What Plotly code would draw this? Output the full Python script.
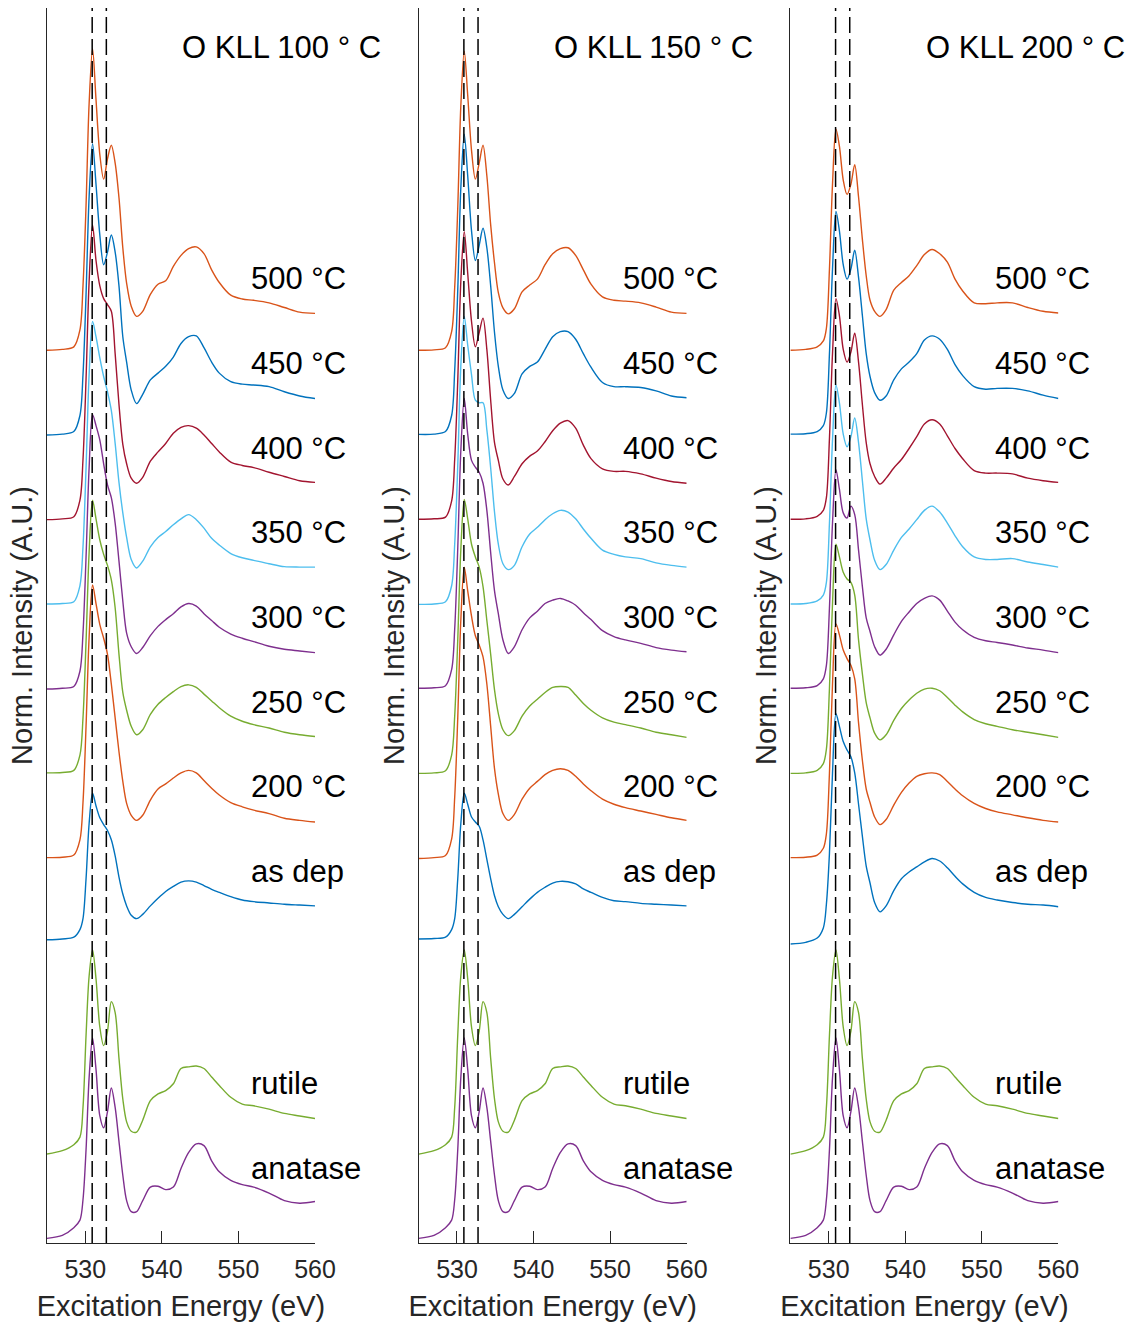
import plotly.graph_objects as go

# Common excitation-energy grid (eV) for all O K-edge spectra
ENERGY = [525, 527, 528.5, 529.3, 529.7, 530.1, 530.5, 530.95, 531.4, 531.9,
          532.4, 532.9, 533.4, 533.9, 534.4, 534.9, 535.4, 536.0, 536.7, 537.5,
          538.5, 539.5, 540.5, 541.5, 542.5, 543.5, 544.5, 545.5, 546.5, 547.5,
          549.0, 550.5, 552.0, 554.0, 556.0, 558.0, 560.0]

# Reference spectra (shared by all three panels)
ANATASE = [0.055, 0.09, 0.18, 0.27, 0.51, 1.1, 1.95, 2.42, 2.05, 1.5,
           1.36, 1.55, 1.83, 1.6, 1.2, 0.8, 0.5, 0.37, 0.37, 0.5,
           0.66, 0.67, 0.63, 0.66, 0.88, 1.07, 1.17, 1.15, 0.97, 0.84,
           0.74, 0.69, 0.66, 0.59, 0.5, 0.47, 0.49]
RUTILE = [0.05, 0.09, 0.16, 0.25, 0.6, 1.45, 2.15, 2.46, 2.12, 1.55,
          1.33, 1.5, 1.85, 1.72, 1.18, 0.7, 0.43, 0.32, 0.31, 0.45,
          0.68, 0.76, 0.8, 0.88, 1.06, 1.08, 1.09, 1.06, 0.96, 0.86,
          0.72, 0.64, 0.62, 0.58, 0.53, 0.5, 0.47]

# O KLL 100 °C series
P100_ASDEP = [0.08, 0.09, 0.11, 0.2, 0.33, 0.8, 1.45, 1.81, 1.66, 1.52,
              1.44, 1.37, 1.26, 1.07, 0.82, 0.62, 0.48, 0.37, 0.33, 0.38,
              0.48, 0.57, 0.65, 0.71, 0.76, 0.775, 0.76, 0.72, 0.675, 0.64,
              0.59, 0.55, 0.53, 0.515, 0.5, 0.49, 0.48]
P100_200 = [0.05, 0.055, 0.08, 0.26, 0.7, 1.6, 2.65, 3.27, 3.05, 2.8,
            2.64, 2.45, 2.1, 1.7, 1.3, 0.95, 0.69, 0.55, 0.49, 0.55,
            0.73, 0.86, 0.92, 0.99, 1.05, 1.08, 1.05, 0.96, 0.87, 0.79,
            0.7, 0.65, 0.61, 0.57, 0.515, 0.49, 0.47]
P100_250 = [0.05, 0.055, 0.08, 0.26, 0.7, 1.6, 2.65, 3.27, 3.05, 2.8,
            2.63, 2.5, 2.33, 2.0, 1.45, 1.0, 0.79, 0.6, 0.5, 0.56,
            0.74, 0.86, 0.94, 1.01, 1.07, 1.09, 1.06, 0.98, 0.9, 0.82,
            0.72, 0.66, 0.62, 0.58, 0.53, 0.5, 0.48]
P100_300 = [0.04, 0.05, 0.07, 0.25, 0.7, 1.6, 2.65, 3.28, 3.15, 2.98,
            2.7, 2.45, 2.3, 2.0, 1.55, 1.08, 0.7, 0.54, 0.46, 0.53,
            0.67, 0.78, 0.86, 0.93, 1.01, 1.05, 1.02, 0.93, 0.85, 0.77,
            0.69, 0.64, 0.6, 0.545, 0.51, 0.49, 0.47]
P100_350 = [0.044, 0.05, 0.07, 0.26, 0.72, 1.65, 2.75, 3.38, 3.2, 2.95,
            2.73, 2.55, 2.33, 1.94, 1.48, 1.12, 0.83, 0.57, 0.47, 0.55,
            0.72, 0.83, 0.9, 0.98, 1.05, 1.1, 1.04, 0.94, 0.82, 0.74,
            0.64, 0.59, 0.56, 0.52, 0.485, 0.48, 0.48]
P100_400 = [0.04, 0.05, 0.075, 0.27, 0.75, 1.7, 2.85, 3.52, 3.1, 2.8,
            2.65, 2.58, 2.5, 2.0, 1.4, 0.93, 0.7, 0.53, 0.47, 0.54,
            0.73, 0.84, 0.94, 1.06, 1.13, 1.15, 1.12, 1.04, 0.94, 0.84,
            0.72, 0.68, 0.655, 0.6, 0.55, 0.5, 0.48]
P100_450 = [0.04, 0.05, 0.08, 0.27, 0.75, 1.7, 2.85, 3.48, 3.0, 2.4,
            2.05, 2.2, 2.4, 2.2, 1.8, 1.2, 0.9, 0.57, 0.41, 0.52,
            0.69, 0.77, 0.85, 0.96, 1.12, 1.2, 1.21, 1.07, 0.9, 0.77,
            0.67, 0.64, 0.63, 0.61, 0.55, 0.5, 0.47]
P100_500 = [0.04, 0.05, 0.08, 0.28, 0.8, 1.75, 2.95, 3.6, 3.0, 2.35,
            2.06, 2.3, 2.46, 2.25, 1.84, 1.25, 0.83, 0.56, 0.44, 0.5,
            0.7, 0.82, 0.86, 1.03, 1.16, 1.24, 1.26, 1.18, 0.99, 0.84,
            0.69, 0.645, 0.63, 0.6, 0.545, 0.49, 0.475]

# O KLL 150 °C series
P150_ASDEP = [0.09, 0.095, 0.11, 0.2, 0.33, 0.8, 1.45, 1.81, 1.68, 1.53,
              1.47, 1.42, 1.26, 1.03, 0.8, 0.6, 0.47, 0.38, 0.33, 0.38,
              0.47, 0.56, 0.64, 0.7, 0.75, 0.77, 0.765, 0.74, 0.68, 0.64,
              0.58, 0.54, 0.53, 0.51, 0.5, 0.49, 0.48]
P150_200 = [0.04, 0.05, 0.075, 0.27, 0.76, 1.7, 2.85, 3.48, 3.2, 2.9,
            2.67, 2.56, 2.42, 2.1, 1.6, 1.1, 0.8, 0.57, 0.49, 0.56,
            0.74, 0.87, 0.95, 1.03, 1.08, 1.1, 1.08, 1.01, 0.92, 0.84,
            0.74, 0.68, 0.64, 0.6, 0.56, 0.52, 0.49]
P150_250 = [0.045, 0.05, 0.075, 0.26, 0.72, 1.62, 2.68, 3.28, 3.05, 2.75,
            2.6, 2.48, 2.25, 1.85, 1.45, 1.03, 0.75, 0.56, 0.49, 0.55,
            0.72, 0.84, 0.92, 1.0, 1.06, 1.07, 1.06, 0.97, 0.87, 0.79,
            0.7, 0.65, 0.62, 0.58, 0.53, 0.5, 0.47]
P150_300 = [0.05, 0.055, 0.08, 0.27, 0.75, 1.7, 2.85, 3.47, 3.05, 2.74,
            2.66, 2.6, 2.47, 2.15, 1.65, 1.2, 0.93, 0.62, 0.46, 0.54,
            0.74, 0.88, 0.96, 1.05, 1.09, 1.11, 1.08, 1.03, 0.94, 0.86,
            0.73, 0.66, 0.62, 0.58, 0.53, 0.5, 0.48]
P150_350 = [0.04, 0.045, 0.07, 0.26, 0.75, 1.68, 2.85, 3.44, 3.1, 2.75,
            2.45, 2.42, 2.42, 2.1, 1.65, 1.13, 0.75, 0.52, 0.45, 0.5,
            0.72, 0.87, 0.95, 1.04, 1.11, 1.15, 1.13, 1.05, 0.93, 0.82,
            0.68, 0.63, 0.6, 0.58, 0.53, 0.5, 0.48]
P150_400 = [0.044, 0.05, 0.07, 0.26, 0.75, 1.68, 2.85, 3.44, 2.95, 2.38,
            2.08, 2.25, 2.42, 2.05, 1.45, 0.95, 0.74, 0.52, 0.45, 0.55,
            0.7, 0.79, 0.85, 0.96, 1.09, 1.18, 1.21, 1.12, 0.92, 0.76,
            0.64, 0.61, 0.61, 0.58, 0.53, 0.49, 0.47]
P150_450 = [0.047, 0.05, 0.08, 0.27, 0.8, 1.75, 2.95, 3.59, 3.1, 2.45,
            2.1, 2.28, 2.48, 2.25, 1.8, 1.25, 0.85, 0.57, 0.47, 0.53,
            0.76, 0.85, 0.9, 1.05, 1.2, 1.26, 1.26, 1.17, 1.0, 0.84,
            0.66, 0.61, 0.61, 0.6, 0.56, 0.5, 0.48]
P150_500 = [0.04, 0.045, 0.07, 0.26, 0.78, 1.72, 2.92, 3.57, 3.05, 2.4,
            2.06, 2.25, 2.46, 2.1, 1.52, 1.07, 0.72, 0.54, 0.47, 0.53,
            0.73, 0.81, 0.88, 1.05, 1.18, 1.24, 1.25, 1.16, 0.99, 0.82,
            0.67, 0.63, 0.62, 0.6, 0.55, 0.49, 0.475]

# O KLL 200 °C series
P200_ASDEP = [0.03, 0.05, 0.1, 0.22, 0.5, 1.1, 2.05, 2.75, 2.6, 2.42,
              2.32, 2.24, 2.05, 1.68, 1.3, 0.95, 0.75, 0.52, 0.41, 0.48,
              0.66, 0.8, 0.88, 0.94, 1.0, 1.04, 1.01, 0.93, 0.83, 0.74,
              0.64, 0.58, 0.55, 0.52, 0.5, 0.49, 0.47]
P200_200 = [0.05, 0.055, 0.08, 0.16, 0.33, 1.05, 2.1, 2.81, 2.68, 2.5,
            2.4, 2.32, 2.16, 1.64, 1.2, 0.86, 0.7, 0.53, 0.44, 0.5,
            0.67, 0.82, 0.93, 1.01, 1.04, 1.05, 1.03, 0.95, 0.86, 0.78,
            0.69, 0.63, 0.59, 0.555, 0.52, 0.49, 0.47]
P200_250 = [0.045, 0.05, 0.08, 0.16, 0.33, 1.05, 2.05, 2.75, 2.6, 2.42,
            2.34, 2.3, 2.15, 1.62, 1.22, 0.88, 0.7, 0.52, 0.44, 0.5,
            0.67, 0.81, 0.91, 0.99, 1.04, 1.05, 1.02, 0.94, 0.85, 0.77,
            0.68, 0.63, 0.6, 0.56, 0.53, 0.5, 0.47]
P200_300 = [0.05, 0.055, 0.08, 0.16, 0.32, 1.0, 2.0, 2.63, 2.4, 2.12,
            2.06, 2.2, 2.1, 1.68, 1.25, 0.88, 0.72, 0.54, 0.44, 0.51,
            0.68, 0.84, 0.95, 1.05, 1.11, 1.14, 1.09, 0.96, 0.83, 0.74,
            0.65, 0.61, 0.59, 0.56, 0.525, 0.5, 0.47]
P200_350 = [0.044, 0.05, 0.08, 0.15, 0.3, 1.0, 1.98, 2.63, 2.42, 2.05,
            1.9, 2.02, 2.24, 1.95, 1.5, 1.05, 0.8, 0.56, 0.45, 0.51,
            0.68, 0.83, 0.93, 1.04, 1.15, 1.2, 1.13, 1.0, 0.85, 0.72,
            0.6, 0.57, 0.57, 0.58, 0.54, 0.51, 0.48]
P200_400 = [0.044, 0.05, 0.08, 0.15, 0.3, 1.0, 2.0, 2.65, 2.45, 2.05,
            1.9, 2.02, 2.24, 1.9, 1.4, 0.95, 0.7, 0.55, 0.46, 0.53,
            0.65, 0.75, 0.88, 1.02, 1.17, 1.22, 1.17, 1.03, 0.88, 0.76,
            0.62, 0.59, 0.59, 0.58, 0.53, 0.5, 0.48]
P200_450 = [0.05, 0.055, 0.08, 0.15, 0.3, 1.0, 2.0, 2.68, 2.45, 2.05,
            1.88, 2.0, 2.22, 1.9, 1.45, 1.0, 0.73, 0.54, 0.45, 0.5,
            0.69, 0.82, 0.9, 1.0, 1.16, 1.21, 1.17, 1.05, 0.87, 0.74,
            0.61, 0.58, 0.59, 0.59, 0.56, 0.51, 0.47]
P200_500 = [0.04, 0.05, 0.08, 0.15, 0.3, 1.0, 2.0, 2.65, 2.45, 2.05,
            1.88, 2.0, 2.23, 1.85, 1.35, 0.92, 0.63, 0.5, 0.44, 0.52,
            0.75, 0.84, 0.92, 1.04, 1.17, 1.23, 1.18, 1.08, 0.88, 0.74,
            0.6, 0.59, 0.6, 0.6, 0.545, 0.5, 0.48]

# Stack order, vertical offsets and line colours (bottom to top)
LABELS = ["anatase", "rutile", "as dep", "200 °C", "250 °C",
          "300 °C", "350 °C", "400 °C", "450 °C", "500 °C"]
OFFSETS = [0, 1, 3.5, 4.5, 5.5, 6.5, 7.5, 8.5, 9.5, 10.5]
COLORS = ["#7E2F8E", "#77AC30", "#0072BD", "#D95319", "#77AC30",
          "#7E2F8E", "#4DBEEE", "#A2142F", "#0072BD", "#D95319"]

PANEL_TITLES = ["O KLL 100 ° C", "O KLL 150 ° C", "O KLL 200 ° C"]
PANEL_SERIES = [
    [ANATASE, RUTILE, P100_ASDEP, P100_200, P100_250, P100_300, P100_350, P100_400, P100_450, P100_500],
    [ANATASE, RUTILE, P150_ASDEP, P150_200, P150_250, P150_300, P150_350, P150_400, P150_450, P150_500],
    [ANATASE, RUTILE, P200_ASDEP, P200_200, P200_250, P200_300, P200_350, P200_400, P200_450, P200_500],
]
REF_LINES = [530.9, 532.75]   # dashed markers (eV)
XTICKS = [530, 540, 550, 560]

W, H = 1139, 1324
PANEL_LEFT_PX = [47, 418.7, 790.4]
PANEL_WIDTH_PX = 268
Y_TOP_PX, Y_BOT_PX = 8, 1243
UNIT_PX = 84.7
Y_MAX = (Y_BOT_PX - Y_TOP_PX) / UNIT_PX

FONT = "Liberation Sans, Arial, Helvetica, sans-serif"
AX_COLOR = "#262626"

fig = go.Figure()
annotations = []
shapes = []

for p in range(3):
    xa = "x" if p == 0 else f"x{p + 1}"
    ya = "y" if p == 0 else f"y{p + 1}"
    for series, off, col in zip(PANEL_SERIES[p], OFFSETS, COLORS):
        fig.add_trace(go.Scatter(
            x=ENERGY, y=[v + off for v in series], mode="lines",
            line=dict(color=col, width=1.4, shape="spline", smoothing=0.9),
            xaxis=xa, yaxis=ya, showlegend=False, hoverinfo="skip"))
    for lab, off in zip(LABELS, OFFSETS):
        annotations.append(dict(
            x=551.4, y=off + 0.885, xref=xa, yref=ya, text=lab,
            showarrow=False, xanchor="left", yanchor="middle",
            font=dict(family=FONT, size=31, color="black")))
    annotations.append(dict(
        x=542.4, y=14.12, xref=xa, yref=ya, text=PANEL_TITLES[p],
        showarrow=False, xanchor="left", yanchor="middle",
        font=dict(family=FONT, size=31, color="black")))
    for e in REF_LINES:
        shapes.append(dict(
            type="line", xref=xa, yref=f"{ya} domain", x0=e, x1=e, y0=0, y1=1,
            line=dict(color="black", width=1.5, dash="16px,6px"), layer="above"))

    x0 = PANEL_LEFT_PX[p] / W
    x1 = (PANEL_LEFT_PX[p] + PANEL_WIDTH_PX) / W
    xkey = "xaxis" if p == 0 else f"xaxis{p + 1}"
    ykey = "yaxis" if p == 0 else f"yaxis{p + 1}"
    fig.layout[xkey] = dict(
        domain=[x0, x1], range=[525, 560], anchor=ya,
        tickvals=XTICKS, ticks="inside", ticklen=12, tickwidth=1,
        tickcolor=AX_COLOR, showline=True, linecolor=AX_COLOR, linewidth=1,
        showgrid=False, zeroline=False, automargin=False,
        tickfont=dict(family=FONT, size=25, color=AX_COLOR),
        ticklabelstandoff=4,
        title=dict(text="Excitation Energy (eV)", standoff=13,
                   font=dict(family=FONT, size=29, color=AX_COLOR)))
    fig.layout[ykey] = dict(
        domain=[(H - Y_BOT_PX) / H, (H - Y_TOP_PX) / H], range=[0, Y_MAX],
        anchor=xa, showline=True, linecolor=AX_COLOR, linewidth=1,
        showticklabels=False, ticks="", showgrid=False, zeroline=False,
        automargin=False,
        title=dict(text="Norm. Intensity (A.U.)", standoff=4,
                   font=dict(family=FONT, size=29, color=AX_COLOR)))

fig.update_layout(
    width=W, height=H, margin=dict(l=0, r=0, t=0, b=0),
    paper_bgcolor="white", plot_bgcolor="white",
    annotations=annotations, shapes=shapes)

fig.write_html("out.html")
